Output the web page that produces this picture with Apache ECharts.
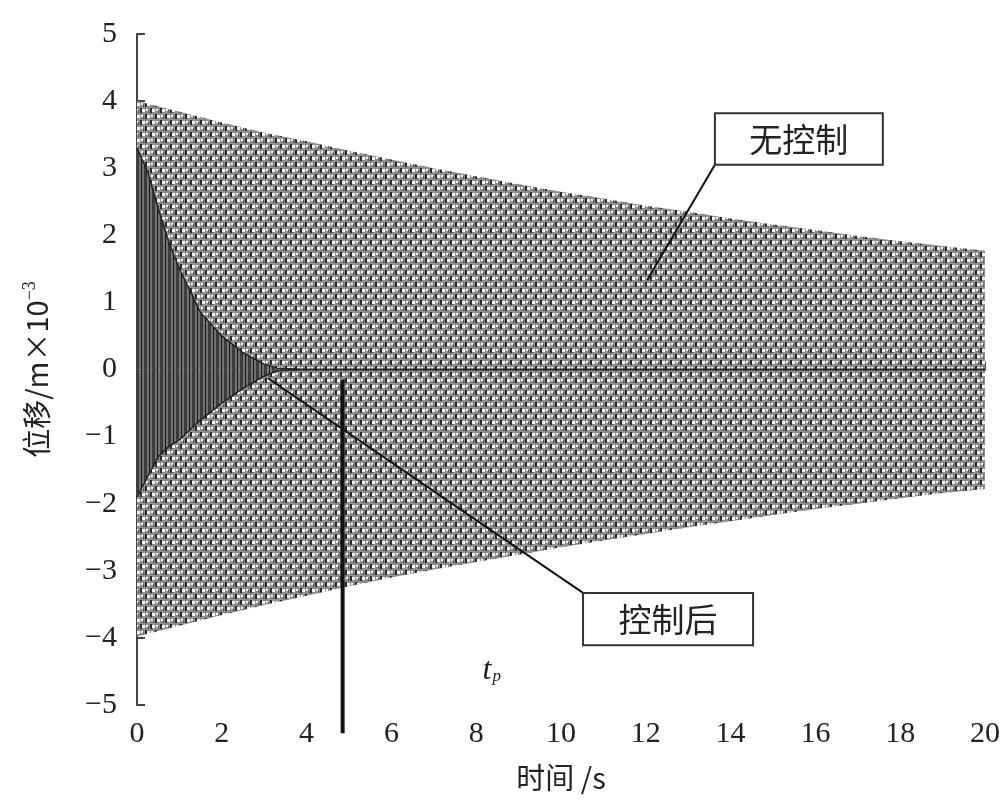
<!DOCTYPE html>
<html>
<head>
<meta charset="utf-8">
<script src="https://cdn.jsdelivr.net/npm/echarts@6/dist/echarts.min.js"></script>
<style>
    html, body { margin: 0; background: #fff; }
    #chart { width: 1003px; height: 800px; }
</style>
</head>
<body>
<div id="chart"></div>
<script>
// 无控制：振荡包络（上、下），按 1 s 读取
var freeTime = [0, 1, 2, 3, 4, 5, 6, 7, 8, 9, 10, 11, 12, 13, 14, 15, 16, 17, 18, 19, 20];
var freeUpper = [4.00, 3.84, 3.68, 3.53, 3.40, 3.26, 3.13, 3.00, 2.88, 2.76, 2.65, 2.55, 2.44, 2.35, 2.25, 2.16, 2.08, 1.99, 1.91, 1.84, 1.77];
var freeLower = [-3.98, -3.82, -3.66, -3.51, -3.37, -3.23, -3.10, -2.98, -2.87, -2.76, -2.65, -2.55, -2.45, -2.35, -2.26, -2.17, -2.08, -2.00, -1.92, -1.84, -1.78];

// 控制后：振荡包络
var ctrlTime = [0, 0.25, 0.5, 0.75, 1, 1.5, 2, 2.5, 3, 3.3, 4, 20];
var ctrlUpper = [3.30, 2.95, 2.40, 1.90, 1.50, 0.85, 0.50, 0.25, 0.08, 0.02, 0, 0];
var ctrlLower = [-1.90, -1.60, -1.30, -1.15, -1.05, -0.75, -0.50, -0.28, -0.10, -0.02, 0, 0];

// 控制起始时刻 t_p
var tpTime = 4.85;

function pairs(xs, ys) {
    var out = [];
    for (var i = 0; i < xs.length; i++) {
        out.push([xs[i], ys[i]]);
    }
    return out;
}

// 纹理，模拟密集振荡曲线
function makeTile(w, h, draw) {
    var c = document.createElement('canvas');
    c.width = w;
    c.height = h;
    draw(c.getContext('2d'));
    return c;
}
var freeTile = makeTile(10, 12, function(g) {
    g.fillStyle = '#8e8e8e';
    g.fillRect(0, 0, 10, 12);
    g.fillStyle = '#2a2a2a';
    g.fillRect(0, 0, 2, 5);
    g.fillRect(5, 6, 2, 5);
    g.fillStyle = '#5a5a5a';
    g.fillRect(8, 2, 1, 3);
    g.fillRect(3, 8, 1, 3);
    g.fillStyle = '#f4f4f4';
    g.fillRect(2, 1, 3, 3);
    g.fillRect(7, 7, 3, 3);
    g.fillRect(1, 7, 2, 2);
    g.fillRect(6, 1, 2, 2);
});
var ctrlTile = makeTile(8, 4, function(g) {
    g.fillStyle = '#747474';
    g.fillRect(0, 0, 8, 4);
    g.fillStyle = '#3c3c3c';
    g.fillRect(0, 0, 3, 4);
    g.fillStyle = '#151515';
    g.fillRect(5, 0, 1, 4);
});

var serif = '"Liberation Serif", "Noto Sans CJK SC", serif';
var cjk = '"Noto Sans CJK SC", sans-serif';

var chart = echarts.init(document.getElementById('chart'));

function bandSeries(name, xs, ys, tile, z, lineWidth) {
    return {
        name : name,
        type : 'line',
        data : pairs(xs, ys),
        symbol : 'none',
        silent : true,
        z : z,
        lineStyle : {
            width : lineWidth,
            color : '#222'
        },
        areaStyle : {
            color : {
                image : tile,
                repeat : 'repeat'
            },
            opacity : 1
        }
    };
}

var option = {
    animation : false,
    backgroundColor : '#fff',
    grid : {
        left : 137,
        right : 18,
        top : 34,
        bottom : 95
    },
    xAxis : {
        type : 'value',
        min : 0,
        max : 20,
        interval : 2,
        name : '时间 /s',
        nameLocation : 'middle',
        nameGap : 58,
        nameTextStyle : {
            fontFamily : cjk,
            fontSize : 29,
            color : '#222'
        },
        axisLine : { lineStyle : { color : '#444', width : 2 } },
        axisTick : { inside : true, length : 8, lineStyle : { color : '#444', width : 2 } },
        axisLabel : { fontFamily : serif, fontSize : 30, color : '#222', margin : 14 },
        splitLine : { show : false }
    },
    yAxis : {
        type : 'value',
        min : -5,
        max : 5,
        interval : 1,
        name : '位移/m×10{sup|−3}',
        nameLocation : 'middle',
        nameRotate : 90,
        nameGap : 84,
        nameTextStyle : {
            fontFamily : cjk,
            fontSize : 29,
            color : '#222',
            rich : {
                sup : {
                    fontFamily : serif,
                    fontSize : 18,
                    color : '#222',
                    verticalAlign : 'top',
                    padding : [0, 0, 14, 0]
                }
            }
        },
        axisLine : { lineStyle : { color : '#444', width : 2 } },
        axisTick : { inside : true, length : 8, lineStyle : { color : '#444', width : 2 } },
        axisLabel : {
            fontFamily : serif,
            fontSize : 30,
            color : '#222',
            margin : 20,
            formatter : function(v) {
                return String(v).replace('-', '−');
            }
        },
        splitLine : { show : false }
    },
    series : [
        bandSeries('无控制', freeTime, freeUpper, freeTile, 2, 0),
        bandSeries('无控制', freeTime, freeLower, freeTile, 2, 0),
        bandSeries('控制后', ctrlTime, ctrlUpper, ctrlTile, 3, 1.5),
        bandSeries('控制后', ctrlTime, ctrlLower, ctrlTile, 3, 1.5)
    ]
};
chart.setOption(option);

/**
 * 标注：文字框、引线、t_p 竖线
 */
function px(x, y) {
    return chart.convertToPixel({ gridIndex : 0 }, [x, y]);
}
function boxLabel(text, x0, y0, x1, y1) {
    var a = px(x0, y0), b = px(x1, y1);
    return [{
        type : 'rect',
        z : 10,
        shape : { x : a[0], y : a[1], width : b[0] - a[0], height : b[1] - a[1] },
        style : { fill : '#fff', stroke : '#333', lineWidth : 2 }
    }, {
        type : 'text',
        z : 11,
        x : (a[0] + b[0]) / 2,
        y : (a[1] + b[1]) / 2,
        style : {
            text : text,
            font : '33px ' + cjk,
            fill : '#222',
            align : 'center',
            verticalAlign : 'middle'
        }
    }];
}
function leader(x0, y0, x1, y1, w) {
    var a = px(x0, y0), b = px(x1, y1);
    return {
        type : 'line',
        z : 9,
        shape : { x1 : a[0], y1 : a[1], x2 : b[0], y2 : b[1] },
        style : { stroke : '#111', lineWidth : w }
    };
}

var tpLabel = px(8.15, -4.72);
var graphics = []
    .concat(boxLabel('无控制', 13.63, 3.82, 17.59, 3.05))
    .concat(boxLabel('控制后', 10.52, -3.33, 14.53, -4.11))
    .concat([
        leader(13.63, 3.05, 12.03, 1.33, 2),
        leader(3.09, -0.13, 10.52, -3.33, 2),
        leader(tpTime, -0.15, tpTime, -5.42, 4),
        {
            type : 'text',
            z : 11,
            x : tpLabel[0],
            y : tpLabel[1],
            style : {
                text : '{t|t}{p|p}',
                align : 'left',
                verticalAlign : 'bottom',
                rich : {
                    t : { font : 'italic 32px ' + serif, fill : '#222' },
                    p : { font : 'italic 17px ' + serif, fill : '#222', padding : [12, 0, 0, 1] }
                }
            }
        }
    ]);
chart.setOption({ graphic : graphics });
</script>
</body>
</html>
